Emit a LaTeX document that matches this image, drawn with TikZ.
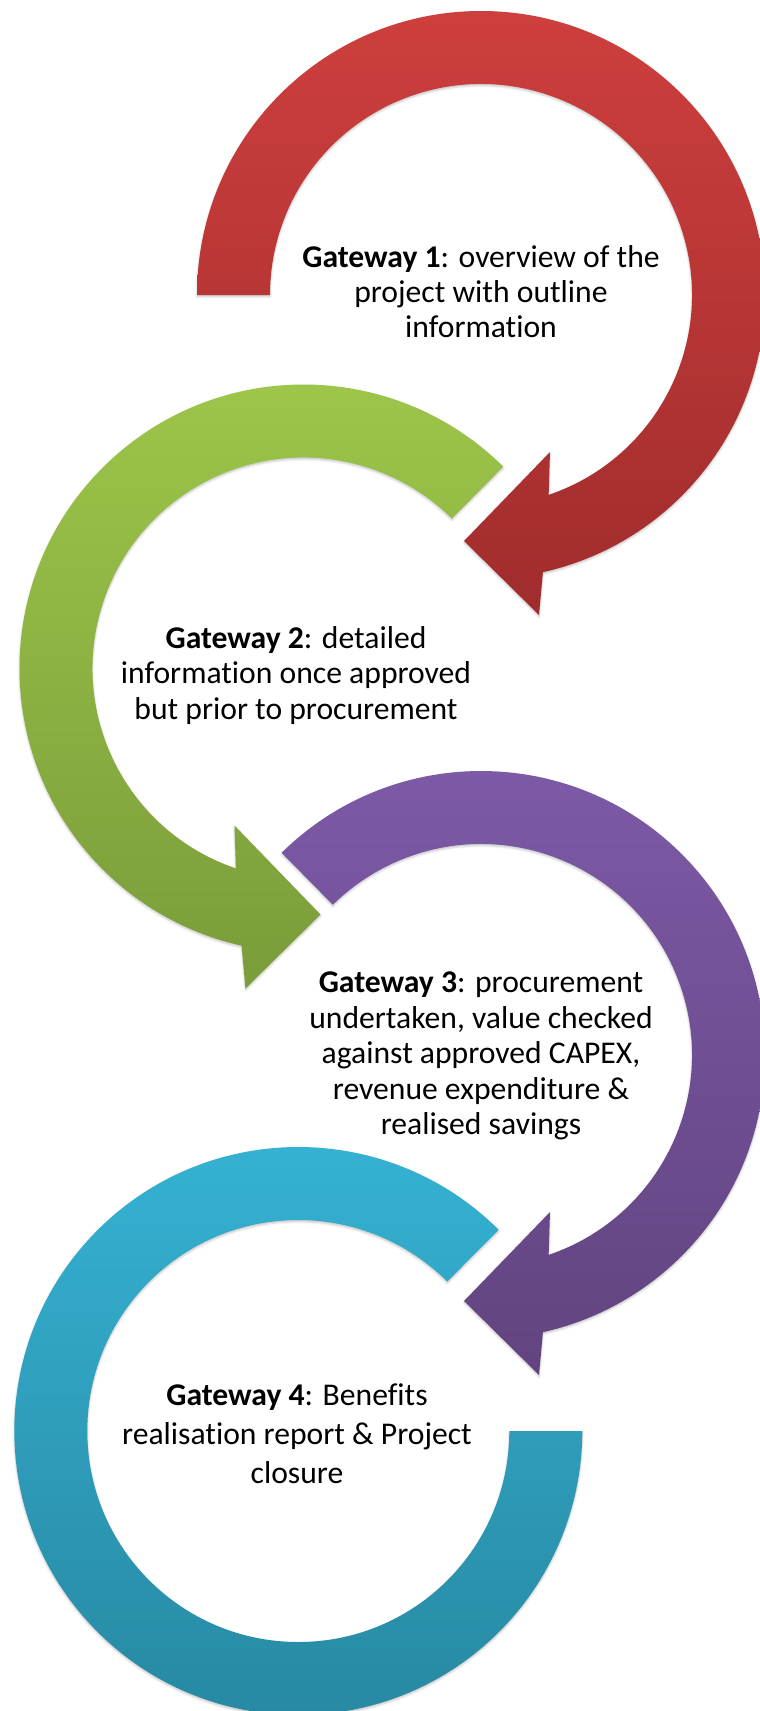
\documentclass[tikz,border=0pt]{standalone}
\usepackage{fontspec}
\setmainfont{Carlito}[Ligatures=NoCommon]
\usetikzlibrary{shadows.blur}

\definecolor{redtop}{RGB}{205,63,61}
\definecolor{redbot}{RGB}{160,44,45}
\definecolor{greentop}{RGB}{158,199,74}
\definecolor{greenbot}{RGB}{122,156,58}
\definecolor{purpletop}{RGB}{126,90,168}
\definecolor{purplebot}{RGB}{97,68,127}
\definecolor{bluetop}{RGB}{54,179,213}
\definecolor{bluebot}{RGB}{39,135,160}

\begin{document}
\begin{tikzpicture}[x=0.025cm, y=0.025cm,
	ring/.style={blur shadow={shadow xshift=0pt, shadow yshift=-1.2pt, shadow blur radius=1.5pt, shadow opacity=22}},
	gate/.style={align=center, inner sep=0pt, font=\fontsize{22.5}{25.25}\selectfont}]
	\useasboundingbox (0,0) rectangle (760,-1711);

	% centres of the four rings
	\coordinate (c1) at (481,-295);
	\coordinate (c2) at (303.5,-668.5);
	\coordinate (c3) at (481,-1055);
	\coordinate (c4) at (298.3,-1431);

	% gateway 1: red, clockwise, head at the bottom
	\begin{scope}[shift={(c1)}]
	\path[ring, top color=redtop, bottom color=redbot] (180:284) arc [radius=284, start angle=180, end angle=-77.4] -- (58,-320) -- (-17,-246) -- (69,-157) -- (-71.3:211) arc [radius=211, start angle=-71.3, end angle=180] -- cycle;
	\end{scope}

	% gateway 2: green, anticlockwise
	\begin{scope}[shift={(c2)}]
	\path[ring, top color=greentop, bottom color=greenbot] (45.3:284) arc [radius=284, start angle=45.3, end angle=257.4] -- (-58,-320) -- (17,-246) -- (-69,-157) -- (251.3:211) arc [radius=211, start angle=251.3, end angle=45.3] -- cycle;
	\end{scope}

	% gateway 3: purple, clockwise
	\begin{scope}[shift={(c3)}]
	\path[ring, top color=purpletop, bottom color=purplebot] (134.6:284) arc [radius=284, start angle=134.6, end angle=-77.4] -- (58,-320) -- (-17,-246) -- (69,-157) -- (-71.3:211) arc [radius=211, start angle=-71.3, end angle=134.6] -- cycle;
	\end{scope}

	% gateway 4: blue, no head, ends flat on the right
	\begin{scope}[shift={(c4)}]
	\path[ring, top color=bluetop, bottom color=bluebot] (45.1:284) arc [radius=284, start angle=45.1, end angle=360] -- (0:211) arc [radius=211, start angle=360, end angle=45.1] -- cycle;
	\end{scope}

	\node[gate, font=\fontsize{22.5}{24.9}\selectfont] (gw1) at (481,-292) {\textbf{Gateway 1}: overview of the\\project with outline\\information};
	\node[gate] (gw2) at (296,-675.5) {\textbf{Gateway 2}: detailed\\information once approved\\but prior to procurement};
	\node[gate] (gw3) at (481,-1056) {\textbf{Gateway 3}: procurement\\undertaken, value checked\\against approved CAPEX,\\revenue expenditure \&\\realised savings};
	\node[gate, font=\fontsize{22.5}{27.6}\selectfont] (gw4) at (297,-1434) {\textbf{Gateway 4}: Benefits\\realisation report \& Project\\closure};
\end{tikzpicture}
\end{document}
